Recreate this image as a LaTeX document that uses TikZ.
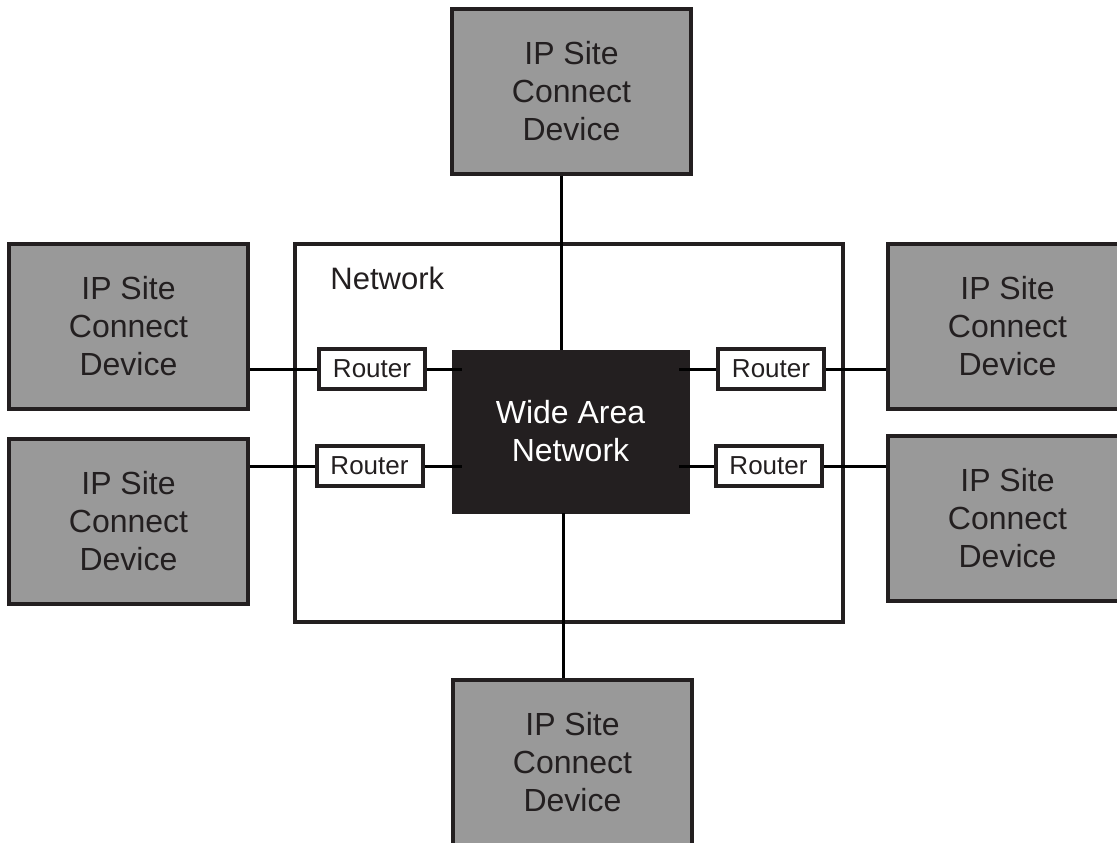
\documentclass[tikz,border=0pt]{standalone}
\usepackage{fontspec}
\setmainfont{Liberation Sans}
\definecolor{inkblack}{HTML}{231F20}
\definecolor{devicegray}{HTML}{999999}
\usetikzlibrary{positioning}
\tikzset{
    devicebox/.style={draw=inkblack, line width=2pt, fill=devicegray, minimum width=119.5pt, minimum height=82.5pt, inner sep=0pt, align=center, text=inkblack, font=\fontsize{16}{19}\selectfont},
    routerbox/.style={draw=inkblack, line width=2pt, fill=white, minimum width=53pt, minimum height=20pt, inner sep=0pt, text=inkblack, font=\fontsize{13}{15.6}\selectfont},
    wanbox/.style={draw=inkblack, line width=1pt, fill=inkblack, minimum width=118pt, minimum height=81pt, inner sep=0pt, align=center, text=white, font=\fontsize{16}{19}\selectfont},
    link/.style={draw=black, line width=1.5pt}
}

\begin{document}
\begin{tikzpicture}[x=0.5pt, y=-0.5pt]
    \useasboundingbox (0,0) rectangle (1117,842);
    \clip (0,0) rectangle (1117,842);
    % Network frame
    \draw[draw=inkblack, line width=2pt] (295,244) rectangle (843,622);
    \node[anchor=base west, inner sep=0pt, text=inkblack, font=\fontsize{15.5}{18}\selectfont] (netlabel) at (330,289) {Network};
    % Sites and routers
    \foreach \nm/\cx/\cy in {dtop/571.5/91, dbot/572.5/762, dlu/128.5/326.5, dll/128.5/521.5, dru/1007.5/326.5, drl/1007.5/518.5} {
        \node[devicebox] (\nm) at (\cx,\cy) {IP Site\\Connect\\Device};
    }
    \node[wanbox] (wan) at (570.5,431.5) {Wide Area\\Network};
    \foreach \nm/\cx/\cy in {rlu/372/369, rll/369.5/466, rru/771/369, rrl/768.5/466} {
        \node[routerbox] (\nm) at (\cx,\cy) {Router};
    }
    % Connector end points inside the WAN
    \coordinate (wlu) at (462,369);
    \coordinate (wll) at (462,466);
    \coordinate (wru) at (679,369);
    \coordinate (wrl) at (679,466);
    \coordinate (wtop) at (561,350);
    \coordinate (wbot) at (563,513);
    % Links
    \draw[link] (dlu.east |- rlu) -- (rlu.west);
    \draw[link] (dll.east |- rll) -- (rll.west);
    \draw[link] (dru.west |- rru) -- (rru.east);
    \draw[link] (drl.west |- rrl) -- (rrl.east);
    \draw[link] (rlu.east) -- (wlu);
    \draw[link] (rll.east) -- (wll);
    \draw[link] (rru.west) -- (wru);
    \draw[link] (rrl.west) -- (wrl);
    \draw[link] (dtop.south -| wtop) -- (wtop);
    \draw[link] (wbot) -- (wbot |- dbot.north);
\end{tikzpicture}
\end{document}
